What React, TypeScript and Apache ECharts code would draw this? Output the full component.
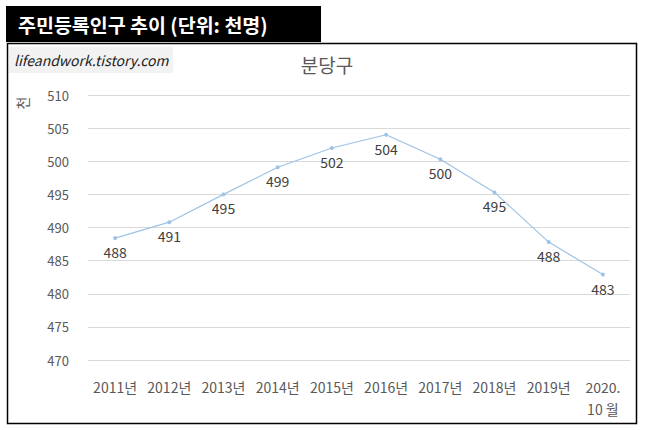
import { useEffect, useRef } from 'react';
import * as echarts from 'echarts';

const years = ['2011년', '2012년', '2013년', '2014년', '2015년', '2016년', '2017년', '2018년', '2019년', '2020.\n10 월'];
const population = [488.4, 490.8, 495.0, 499.1, 502.0, 504.0, 500.3, 495.3, 487.8, 482.9];
const headTitle = '주민등록인구 추이 (단위: 천명)';
const chartTitle = '분당구';
const watermark = 'lifeandwork.tistory.com';
const unitName = '천';

const FONT = '"Noto Sans CJK KR", "Noto Sans", sans-serif';

export default function App() {
  const chartRef = useRef<HTMLDivElement>(null);

  useEffect(() => {
    document.body.style.margin = '0';
    if (!chartRef.current) return;
    const chart = echarts.init(chartRef.current, undefined, { renderer: 'svg' });

    chart.setOption({
      animation: false,
      backgroundColor: '#fff',
      textStyle: { fontFamily: FONT },
      title: {
        text: chartTitle,
        left: 322,
        top: 50,
        textAlign: 'center',
        textStyle: { color: '#595959', fontSize: 19, fontWeight: 'normal', fontFamily: FONT },
      },
      grid: { left: 88, right: 17, top: 95, bottom: 70 },
      xAxis: {
        type: 'category',
        data: years,
        axisLine: { show: false },
        axisTick: { show: false },
        axisLabel: {
          interval: 0,
          hideOverlap: false,
          color: '#595959',
          fontSize: 14,
          margin: 16,
          lineHeight: 22,
          fontFamily: FONT,
        },
      },
      yAxis: {
        type: 'value',
        min: 470,
        max: 510,
        interval: 5,
        axisLine: { show: false },
        axisTick: { show: false },
        axisLabel: { color: '#595959', fontSize: 13, margin: 19, fontFamily: FONT },
        splitLine: { lineStyle: { color: '#d9d9d9', width: 1 } },
      },
      series: [
        {
          type: 'line',
          data: population,
          symbol: 'circle',
          symbolSize: 4,
          lineStyle: { color: '#9dc3e6', width: 1.2 },
          itemStyle: { color: '#9dc3e6' },
          label: {
            show: true,
            position: 'bottom',
            distance: 5,
            color: '#404040',
            fontSize: 14,
            fontFamily: FONT,
            formatter: (p: { value: number }) => Math.round(p.value).toString(),
          },
        },
      ],
      graphic: [
        {
          type: 'rect',
          shape: { x: 7.5, y: 43.5, width: 629, height: 380 },
          style: { fill: 'none', stroke: '#000', lineWidth: 1.5 },
          z: 10,
        },
        {
          type: 'rect',
          shape: { x: 6, y: 6, width: 315, height: 36 },
          style: { fill: '#000' },
          z: 11,
        },
        {
          type: 'text',
          x: 18,
          y: 24,
          style: {
            text: headTitle,
            fill: '#fff',
            font: `bold 19.5px ${FONT}`,
            verticalAlign: 'middle',
          },
          z: 12,
        },
        {
          type: 'rect',
          shape: { x: 9, y: 47, width: 164, height: 26 },
          style: { fill: '#f2f2f2' },
          z: 11,
        },
        {
          type: 'text',
          x: 14,
          y: 60,
          style: {
            text: watermark,
            fill: '#222',
            font: `italic 14px ${FONT}`,
            verticalAlign: 'middle',
          },
          z: 12,
        },
        {
          type: 'text',
          x: 22,
          y: 103,
          rotation: Math.PI / 2,
          style: {
            text: unitName,
            fill: '#595959',
            font: `14px ${FONT}`,
            align: 'center',
            verticalAlign: 'middle',
          },
          z: 12,
        },
      ],
    });

    return () => chart.dispose();
  }, []);

  return <div ref={chartRef} style={{ width: 647, height: 430 }} />;
}
